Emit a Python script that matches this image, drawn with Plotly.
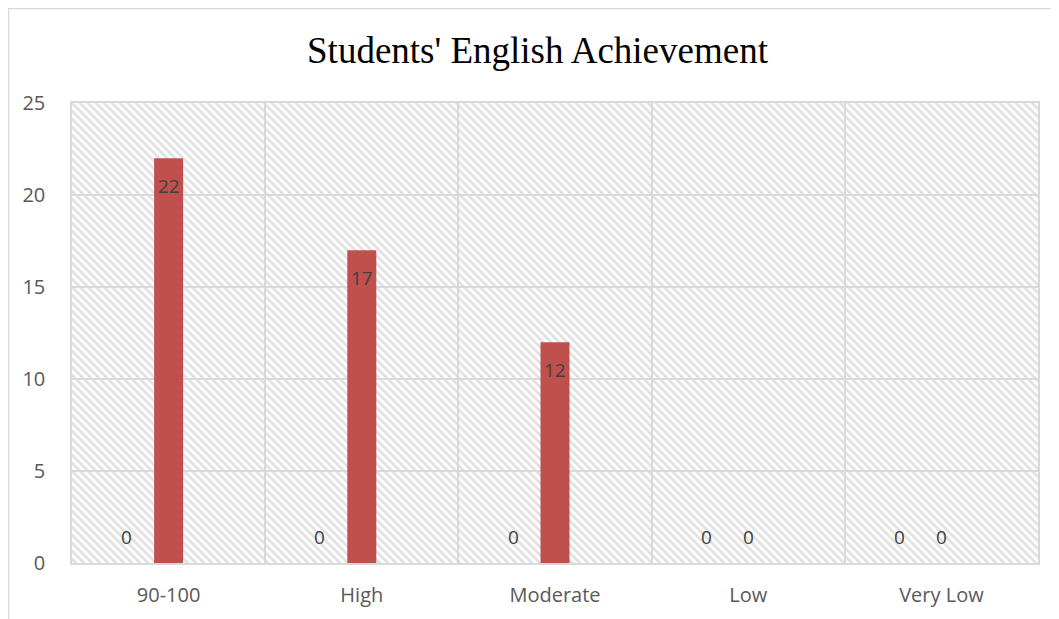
import base64
import plotly.graph_objects as go

categories = ["90-100", "High", "Moderate", "Low", "Very Low"]
series_a = [0, 0, 0, 0, 0]
series_b = [22, 17, 12, 0, 0]
series_c = [None, None, None, None, None]
y_ticks = [0, 5, 10, 15, 20, 25]

BAR = "#C0504D"
GRID = "#D9D9D9"
TICK = "#595959"
LABEL = "#404040"

W, H = 1051, 611          # page body has 8px margin; figure spans 8..1059
L, R, T, B = 64, 21, 95, 56
PW, PH = W - L - R, H - T - B

# diagonal hatch background for plot area
svg = (
    f'<svg xmlns="http://www.w3.org/2000/svg" width="{PW}" height="{PH}">'
    '<defs><pattern id="h" patternUnits="userSpaceOnUse" width="8" height="8">'
    '<path d="M-2,-2 L10,10 M-2,6 L2,10 M6,-2 L10,2" stroke="#E2E2E2" stroke-width="2.8"/>'
    f'</pattern></defs><rect width="{PW}" height="{PH}" fill="white"/>'
    f'<rect width="{PW}" height="{PH}" fill="url(#h)"/></svg>'
)
src = "data:image/svg+xml;base64," + base64.b64encode(svg.encode()).decode()

fig = go.Figure()
for name, vals in [("A", series_a), ("B", series_b), ("C", series_c)]:
    fig.add_trace(go.Bar(x=categories, y=vals, name=name, marker_color=BAR,
                         marker_line_width=0, hoverinfo="skip"))

annotations = []
slot = 0.2174
for k, vals in enumerate([series_a, series_b, series_c]):
    for i, v in enumerate(vals):
        if v is None:
            continue
        annotations.append(dict(
            x=i + (k - 1) * slot, y=v, xref="x", yref="y",
            text=str(v), showarrow=False, yanchor="middle",
            yshift=26 if v == 0 else -28,
            font=dict(family="Open Sans", size=19, color=LABEL)))

fig.update_layout(
    width=W, height=H,
    margin=dict(l=L, r=R, t=T, b=B, autoexpand=False),
    paper_bgcolor="white", plot_bgcolor="rgba(0,0,0,0)",
    showlegend=False,
    barmode="group", bargap=0.348, bargroupgap=0.31,
    title=dict(text="Students' English Achievement", x=0.5038, xanchor="center",
               xref="container", yref="container",
               y=1 - 42 / H, yanchor="middle",
               font=dict(family="Liberation Serif", size=37, color="black")),
    annotations=annotations,
    images=[dict(source=src, xref="paper", yref="paper", x=0, y=1, sizex=1, sizey=1,
                 xanchor="left", yanchor="top", sizing="stretch", layer="below")],
    shapes=[
        dict(type="line", xref="paper", yref="paper", x0=-L / PW, x1=(W - L + 5) / PW,
             y0=(PH + T - 0.5) / PH, y1=(PH + T - 0.5) / PH, line=dict(color=GRID, width=1.5)),
        dict(type="line", xref="paper", yref="paper", x0=(0.5 - L) / PW, x1=(0.5 - L) / PW,
             y0=(PH + T) / PH, y1=-(B + 10) / PH, line=dict(color=GRID, width=1.5)),
    ],
)
fig.update_xaxes(type="category", tickson="boundaries", showgrid=True, gridcolor=GRID,
                 gridwidth=1.5, showline=True, linecolor=GRID, linewidth=1.5, ticks="",
                 mirror=True, ticklabelstandoff=13, automargin=False,
                 tickfont=dict(family="Open Sans", size=20, color=TICK))
fig.update_yaxes(range=[0, 25], tickvals=y_ticks, showgrid=True, gridcolor=GRID,
                 gridwidth=1.5, showline=True, linecolor=GRID, linewidth=1.5, mirror=True,
                 zeroline=False, ticks="", ticklabelstandoff=21, automargin=False,
                 tickfont=dict(family="Open Sans", size=20, color=TICK))

fig.write_html("out.html")
